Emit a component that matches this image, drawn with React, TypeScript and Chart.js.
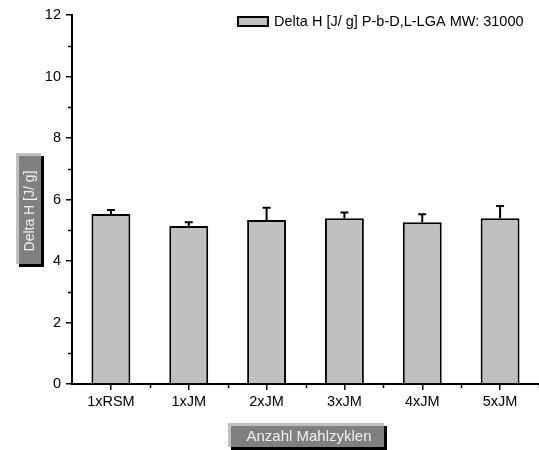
import React, { useEffect, useRef } from "react";
import { Chart, registerables } from "chart.js";

Chart.register(...registerables);

const categories = ["1xRSM", "1xJM", "2xJM", "3xJM", "4xJM", "5xJM"];
const values = [5.53, 5.14, 5.33, 5.39, 5.26, 5.39];
const errors = [0.13, 0.12, 0.4, 0.19, 0.26, 0.4];
const seriesLabel = "Delta H [J/ g] P-b-D,L-LGA MW: 31000";
const yTitle = "Delta H [J/ g]";
const xTitle = "Anzahl Mahlzyklen";
const yMin = 0;
const yMax = 12;
const yStep = 2;

const FONT = "'Liberation Sans', Arial, sans-serif";

function drawBox(ctx: CanvasRenderingContext2D, x: number, y: number, w: number, h: number) {
  ctx.fillStyle = "#000000";
  ctx.fillRect(x + 3, y + 3, w, h);
  ctx.fillStyle = "#c0c0c0";
  ctx.fillRect(x, y, w, h);
  ctx.fillStyle = "#808080";
  ctx.fillRect(x + 3, y + 3, w - 3, h - 3);
}

const extrasPlugin = {
  id: "extras",
  afterDatasetsDraw(chart: any) {
    const ctx: CanvasRenderingContext2D = chart.ctx;
    const xs = chart.scales.x;
    const ys = chart.scales.y;
    ctx.save();
    ctx.strokeStyle = "#000";
    ctx.lineWidth = 2;
    values.forEach((v, i) => {
      const x = xs.getPixelForValue(i);
      const yTop = ys.getPixelForValue(v);
      const yErr = ys.getPixelForValue(v + errors[i]);
      ctx.beginPath();
      ctx.moveTo(x, yTop);
      ctx.lineTo(x, yErr);
      ctx.moveTo(x - 4, yErr);
      ctx.lineTo(x + 4, yErr);
      ctx.stroke();
    });
    ctx.restore();
  },
  afterDraw(chart: any) {
    const ctx: CanvasRenderingContext2D = chart.ctx;
    const xs = chart.scales.x;
    const ys = chart.scales.y;
    const area = chart.chartArea;
    ctx.save();
    ctx.strokeStyle = "#000";
    ctx.lineWidth = 1.5;
    for (let v = yMin + yStep / 2; v < yMax; v += yStep) {
      const y = Math.round(ys.getPixelForValue(v)) + 0.5;
      ctx.beginPath();
      ctx.moveTo(area.left, y);
      ctx.lineTo(area.left - 4, y);
      ctx.stroke();
    }
    for (let i = 0; i < categories.length; i++) {
      const x = Math.round((xs.getPixelForValue(i) + xs.getPixelForValue(i + 1)) / 2) + 0.5;
      ctx.beginPath();
      ctx.moveTo(x, area.bottom);
      ctx.lineTo(x, area.bottom + 4);
      ctx.stroke();
    }

    // legend
    ctx.fillStyle = "#c0c0c0";
    ctx.fillRect(238, 17, 30, 9);
    ctx.strokeStyle = "#000";
    ctx.lineWidth = 2;
    ctx.strokeRect(238, 17, 30, 9);
    ctx.fillStyle = "#000";
    ctx.font = `14.5px ${FONT}`;
    ctx.textBaseline = "middle";
    ctx.textAlign = "left";
    ctx.fillText(seriesLabel, 274, 22);

    // y title box
    drawBox(ctx, 16, 153, 25, 111);
    ctx.save();
    ctx.translate(30, 211);
    ctx.rotate(-Math.PI / 2);
    ctx.fillStyle = "#f0f0f0";
    ctx.textAlign = "center";
    ctx.textBaseline = "middle";
    ctx.font = `14px ${FONT}`;
    ctx.fillText(yTitle, 0, 0);
    ctx.restore();

    // x title box
    drawBox(ctx, 228, 423, 156, 24);
    ctx.fillStyle = "#f0f0f0";
    ctx.textAlign = "center";
    ctx.textBaseline = "middle";
    ctx.font = `15px ${FONT}`;
    ctx.fillText(xTitle, 309, 437);
    ctx.restore();
  },
};

export default function App() {
  const ref = useRef<HTMLCanvasElement>(null);
  useEffect(() => {
    document.body.style.margin = "0";
    const canvas = ref.current!;
    const chart = new Chart(canvas, {
      type: "bar",
      data: {
        labels: categories,
        datasets: [
          {
            label: seriesLabel,
            data: values,
            backgroundColor: "#c0c0c0",
            borderColor: "#000000",
            borderWidth: 2,
            barPercentage: 0.5,
            categoryPercentage: 1,
          },
        ],
      },
      options: {
        responsive: false,
        animation: false,
        events: [],
        layout: { padding: { top: 15, right: 0, left: 0, bottom: 0 } },
        plugins: {
          legend: { display: false },
          title: { display: false },
          tooltip: { enabled: false },
        },
        scales: {
          x: {
            afterFit: (s: any) => {
              s.height = 66;
            },
            grid: {
              display: true,
              drawOnChartArea: false,
              offset: false,
              tickLength: 6,
              color: "#000",
              lineWidth: 1.5,
            },
            border: { display: true, color: "#000", width: 2 },
            ticks: {
              color: "#000",
              font: { family: FONT, size: 14.5 },
              padding: 3,
              maxRotation: 0,
            },
          },
          y: {
            min: yMin,
            max: yMax,
            afterFit: (s: any) => {
              s.width = 72;
            },
            grid: {
              display: true,
              drawOnChartArea: false,
              tickLength: 6,
              color: "#000",
              lineWidth: 1.5,
            },
            border: { display: true, color: "#000", width: 2 },
            ticks: {
              stepSize: yStep,
              color: "#000",
              font: { family: FONT, size: 14.5 },
              padding: 5,
            },
          },
        },
      },
      plugins: [extrasPlugin],
    });
    return () => chart.destroy();
  }, []);
  return (
    <div style={{ width: 539, height: 450 }}>
      <canvas ref={ref} width={539} height={450} style={{ display: "block" }} />
    </div>
  );
}
